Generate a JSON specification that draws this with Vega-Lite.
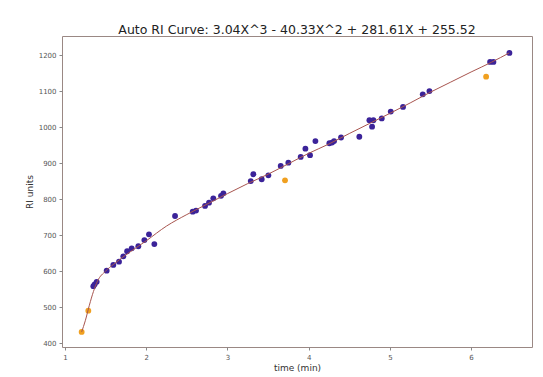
{
  "$schema": "https://vega.github.io/schema/vega-lite/v6.json",
  "width": 470,
  "height": 311,
  "autosize": "none",
  "padding": {"left": 62, "top": 36, "right": 11, "bottom": 30},
  "background": "white",
  "title": {
    "text": "Auto RI Curve: 3.04X^3 - 40.33X^2 + 281.61X + 255.52",
    "font": "DejaVu Sans",
    "fontSize": 12.5,
    "fontWeight": "normal",
    "color": "#222222",
    "offset": 0
  },
  "config": {
    "view": {"stroke": "#9a8884", "strokeWidth": 1},
    "axis": {
      "labelFont": "DejaVu Sans",
      "titleFont": "DejaVu Sans",
      "labelFontSize": 7,
      "titleFontSize": 9,
      "titleFontWeight": "normal",
      "labelColor": "#555555",
      "titleColor": "#333333",
      "tickColor": "#888888",
      "tickSize": 3,
      "labelPadding": 3,
      "labelOverlap": false,
      "labelFlush": false,
      "domain": false,
      "grid": false,
      "format": "d"
    }
  },
  "datasets": {
    "curve": [
      {"time": 1.205, "ri": 431},
      {"time": 1.25, "ri": 462},
      {"time": 1.3, "ri": 505},
      {"time": 1.35, "ri": 543},
      {"time": 1.4, "ri": 572},
      {"time": 1.5, "ri": 600},
      {"time": 1.6, "ri": 619},
      {"time": 1.75, "ri": 645},
      {"time": 2.0, "ri": 684},
      {"time": 2.25, "ri": 725},
      {"time": 2.5, "ri": 757},
      {"time": 2.75, "ri": 786},
      {"time": 3.0, "ri": 815},
      {"time": 3.25, "ri": 843},
      {"time": 3.5, "ri": 869},
      {"time": 3.75, "ri": 898},
      {"time": 4.0, "ri": 927},
      {"time": 4.25, "ri": 953},
      {"time": 4.5, "ri": 982},
      {"time": 4.75, "ri": 1010},
      {"time": 5.0, "ri": 1038},
      {"time": 5.25, "ri": 1067},
      {"time": 5.5, "ri": 1097},
      {"time": 5.75, "ri": 1125},
      {"time": 6.0, "ri": 1153},
      {"time": 6.25, "ri": 1180},
      {"time": 6.47, "ri": 1206}
    ],
    "points": [
      {"time": 1.205, "ri": 431, "kind": "excluded"},
      {"time": 1.287, "ri": 490, "kind": "excluded"},
      {"time": 3.709, "ri": 852, "kind": "excluded"},
      {"time": 6.185, "ri": 1140, "kind": "excluded"},
      {"time": 1.349, "ri": 558, "kind": "used"},
      {"time": 1.365, "ri": 563, "kind": "used"},
      {"time": 1.39, "ri": 570, "kind": "used"},
      {"time": 1.513, "ri": 601, "kind": "used"},
      {"time": 1.595, "ri": 617, "kind": "used"},
      {"time": 1.665, "ri": 626, "kind": "used"},
      {"time": 1.718, "ri": 641, "kind": "used"},
      {"time": 1.765, "ri": 655, "kind": "used"},
      {"time": 1.821, "ri": 663, "kind": "used"},
      {"time": 1.903, "ri": 669, "kind": "used"},
      {"time": 1.977, "ri": 686, "kind": "used"},
      {"time": 2.034, "ri": 702, "kind": "used"},
      {"time": 2.1, "ri": 675, "kind": "used"},
      {"time": 2.355, "ri": 753, "kind": "used"},
      {"time": 2.572, "ri": 765, "kind": "used"},
      {"time": 2.613, "ri": 768, "kind": "used"},
      {"time": 2.724, "ri": 781, "kind": "used"},
      {"time": 2.773, "ri": 790, "kind": "used"},
      {"time": 2.826, "ri": 802, "kind": "used"},
      {"time": 2.921, "ri": 809, "kind": "used"},
      {"time": 2.95, "ri": 816, "kind": "used"},
      {"time": 3.287, "ri": 850, "kind": "used"},
      {"time": 3.319, "ri": 869, "kind": "used"},
      {"time": 3.422, "ri": 855, "kind": "used"},
      {"time": 3.504, "ri": 866, "kind": "used"},
      {"time": 3.656, "ri": 892, "kind": "used"},
      {"time": 3.75, "ri": 901, "kind": "used"},
      {"time": 3.902, "ri": 917, "kind": "used"},
      {"time": 3.96, "ri": 940, "kind": "used"},
      {"time": 4.017, "ri": 922, "kind": "used"},
      {"time": 4.083, "ri": 961, "kind": "used"},
      {"time": 4.255, "ri": 955, "kind": "used"},
      {"time": 4.288, "ri": 957, "kind": "used"},
      {"time": 4.313, "ri": 961, "kind": "used"},
      {"time": 4.399, "ri": 971, "kind": "used"},
      {"time": 4.624, "ri": 973, "kind": "used"},
      {"time": 4.748, "ri": 1019, "kind": "used"},
      {"time": 4.781, "ri": 1001, "kind": "used"},
      {"time": 4.797, "ri": 1019, "kind": "used"},
      {"time": 4.9, "ri": 1024, "kind": "used"},
      {"time": 5.011, "ri": 1043, "kind": "used"},
      {"time": 5.162, "ri": 1056, "kind": "used"},
      {"time": 5.405, "ri": 1091, "kind": "used"},
      {"time": 5.487, "ri": 1100, "kind": "used"},
      {"time": 6.234, "ri": 1181, "kind": "used"},
      {"time": 6.275, "ri": 1181, "kind": "used"},
      {"time": 6.472, "ri": 1206, "kind": "used"}
    ]
  },
  "layer": [
    {
      "data": {"name": "points"},
      "mark": {"type": "point", "filled": true, "shape": "circle", "size": 34, "opacity": 1},
      "encoding": {
        "x": {
          "field": "time", "type": "quantitative",
          "scale": {"domain": [0.963, 6.75], "nice": false, "zero": false},
          "axis": {"values": [1, 2, 3, 4, 5, 6], "title": "time (min)", "titlePadding": 3, "labelOverlap": false}
        },
        "y": {
          "field": "ri", "type": "quantitative",
          "scale": {"domain": [389, 1253], "nice": false, "zero": false},
          "axis": {"values": [400, 500, 600, 700, 800, 900, 1000, 1100, 1200], "title": "RI units", "titlePadding": 4, "labelOverlap": false, "tickCount": 9}
        },
        "color": {
          "field": "kind", "type": "nominal",
          "scale": {"domain": ["used", "excluded"], "range": ["#3b2399", "#f0a020"]},
          "legend": null
        }
      }
    },
    {
      "data": {"name": "curve"},
      "mark": {"type": "line", "color": "#a8554f", "strokeWidth": 1, "interpolate": "monotone"},
      "encoding": {
        "x": {"field": "time", "type": "quantitative"},
        "y": {"field": "ri", "type": "quantitative"}
      }
    }
  ]
}
